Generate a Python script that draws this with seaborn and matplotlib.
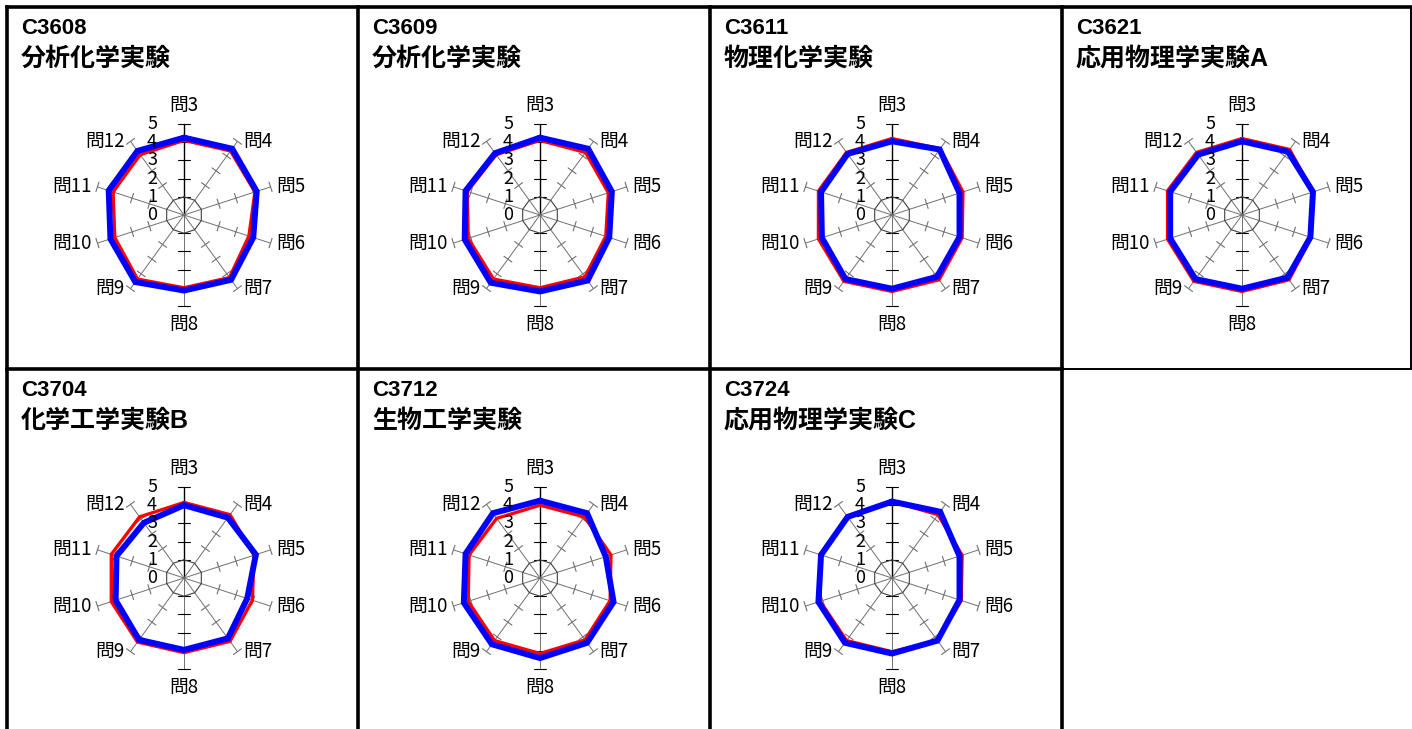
import numpy as np
import pandas as pd
import matplotlib
matplotlib.use("Agg")
import matplotlib.pyplot as plt
from matplotlib.lines import Line2D
import seaborn as sns

sns.set_style("white")
plt.rcParams['font.family'] = ['Noto Sans CJK JP', 'DejaVu Sans']
plt.rcParams['text.color'] = 'black'

# 設問ラベル
questions = ['問3', '問4', '問5', '問6', '問7', '問8', '問9', '問10', '問11', '問12']
scale_labels = ['0', '1', '2', '3', '4', '5']

# 科目
course_codes = ['C3608', 'C3609', 'C3611', 'C3621', 'C3704', 'C3712', 'C3724']
course_names = ['分析化学実験', '分析化学実験', '物理化学実験', '応用物理学実験A',
                '化学工学実験B', '生物工学実験', '応用物理学実験C']

# 赤 / 青 の系列 (問3..問12)
red_c3608 = [4.1, 4.35, 4.1, 3.75, 4.25, 4.0, 4.35, 4.0, 4.1, 4.1]
blue_c3608 = [4.25, 4.5, 4.2, 4.0, 4.4, 4.15, 4.55, 4.25, 4.35, 4.35]
red_c3609 = [4.1, 4.25, 3.95, 3.8, 4.2, 4.0, 4.35, 4.15, 4.2, 4.1]
blue_c3609 = [4.25, 4.5, 4.15, 4.0, 4.45, 4.2, 4.6, 4.35, 4.3, 4.2]
red_c3611 = [4.2, 4.5, 4.1, 4.05, 4.4, 4.2, 4.5, 4.25, 4.25, 4.25]
blue_c3611 = [4.05, 4.45, 3.9, 3.9, 4.2, 4.05, 4.35, 4.05, 4.1, 4.15]
red_c3621 = [4.2, 4.45, 4.1, 4.0, 4.4, 4.2, 4.5, 4.3, 4.3, 4.25]
blue_c3621 = [4.05, 4.3, 4.1, 3.95, 4.25, 4.05, 4.35, 4.15, 4.15, 4.1]
red_c3704 = [4.15, 4.3, 4.05, 3.95, 4.3, 4.1, 4.35, 4.2, 4.2, 4.15]
blue_c3704 = [4.0, 4.1, 4.15, 3.65, 4.1, 3.95, 4.2, 3.95, 3.9, 3.75]
red_c3712 = [4.0, 4.15, 4.1, 4.05, 4.2, 4.15, 4.25, 4.15, 4.1, 4.05]
blue_c3712 = [4.25, 4.4, 3.8, 4.25, 4.4, 4.4, 4.5, 4.4, 4.3, 4.4]
red_c3724 = [4.2, 4.3, 4.05, 4.0, 4.25, 4.05, 4.25, 4.15, 4.15, 4.15]
blue_c3724 = [4.2, 4.5, 3.9, 3.9, 4.25, 4.15, 4.4, 4.25, 4.1, 4.15]

red_series = [red_c3608, red_c3609, red_c3611, red_c3621, red_c3704, red_c3712, red_c3724]
blue_series = [blue_c3608, blue_c3609, blue_c3611, blue_c3621, blue_c3704, blue_c3712, blue_c3724]

W, H = 1412, 729
fig = plt.figure(figsize=(W / 100, H / 100), dpi=100)


def fx(x):
    return x / W


def fy(y):
    return 1 - y / H


# 枠線
def border(x0, y0, x1, y1, lw):
    fig.add_artist(Line2D([fx(x0), fx(x1)], [fy(y0), fy(y1)], color='black',
                          linewidth=lw, solid_capstyle='projecting'))


thick, thin = 2.6, 1.4
border(7, 7, 1411, 7, thick)
border(7, 7, 7, 729, thick)
for xv in [358, 710, 1062]:
    border(xv, 7, xv, 729, thick)
border(7, 369, 1062, 369, thick)
border(1062, 369, 1411, 369, thin)
border(1411, 7, 1411, 369, thin)

cell_left = [7, 358, 710, 1062]
cell_top = [7, 369]
center_x = [184, 540, 892, 1242]
center_y = [215, 578]
R = 91  # 値5の半径(px)

n = len(questions)
angles = np.arange(n) * 2 * np.pi / n
closed = np.append(angles, 2 * np.pi)
gray = '#707070'
title_font = ['Liberation Sans', 'Noto Sans CJK JP']

for i, code in enumerate(course_codes):
    row, col = divmod(i, 4)

    # タイトル
    tx = cell_left[col] + 14
    fig.text(fx(tx), fy(cell_top[row] + 21), code, fontsize=16, fontweight='bold',
             family=title_font, va='center', ha='left')
    fig.text(fx(tx), fy(cell_top[row] + 52), course_names[i], fontsize=18, fontweight='bold',
             family=title_font, va='center', ha='left')

    cx, cy = center_x[col], center_y[row]
    ax = fig.add_axes([fx(cx - R), fy(cy + R), 2 * R / W, 2 * R / H], projection='polar')
    ax.set_theta_zero_location('N')
    ax.set_theta_direction(-1)
    ax.spines['polar'].set_visible(False)
    ax.patch.set_alpha(0)

    # 軸(スポーク)と目盛
    for k, th in enumerate(angles):
        if k == 0:
            ax.plot([th, th], [0, 5], color='black', lw=1.0, clip_on=False)
        else:
            ax.plot([th, th], [0, 5], color=gray, lw=0.7, clip_on=False)
        vertical = k in (0, 5)
        h = 0.33 if vertical else 0.27
        tc = 'black' if vertical else gray
        for r in range(1 if vertical else 2, 6):
            rr = np.hypot(r, h)
            d = np.arctan2(h, r)
            ax.plot([th - d, th + d], [rr, rr], color=tc, lw=0.8, clip_on=False)

    # 内側の十角形 (値1)
    ax.plot(closed, np.ones(n + 1), color='#404040', lw=0.8)

    # データ
    for vals, color, lw in [(red_series[i], '#ff0000', 2.4), (blue_series[i], '#0000ff', 4.3)]:
        df = pd.DataFrame({'theta': closed, 'score': vals + [vals[0]]})
        sns.lineplot(data=df, x='theta', y='score', sort=False, estimator=None,
                     color=color, linewidth=lw, ax=ax, clip_on=False,
                     solid_joinstyle='miter')

    ax.set_xlabel('')
    ax.set_ylabel('')
    ax.set_xticks([])
    ax.set_yticks([])
    ax.grid(False)
    ax.set_ylim(0, 5)

    # 設問ラベル
    for th, q in zip(angles, questions):
        s, c = np.sin(th), np.cos(th)
        if abs(s) < 0.1:
            ha = 'center'
            va = 'bottom' if c > 0 else 'top'
            off = (0, 6 if c > 0 else -6)
        else:
            ha = 'left' if s > 0 else 'right'
            va = 'center'
            off = (4 if s > 0 else -4, 0)
        ax.annotate(q, xy=(th, 5), xytext=off, textcoords='offset points',
                    ha=ha, va=va, fontsize=13.5, annotation_clip=False)

    # 目盛ラベル
    for r, lab in enumerate(scale_labels):
        ax.annotate(lab, xy=(0, r), xytext=(-23, 0), textcoords='offset points',
                    ha='center', va='center', fontsize=13, annotation_clip=False)

fig.savefig('out.png', dpi=100)
